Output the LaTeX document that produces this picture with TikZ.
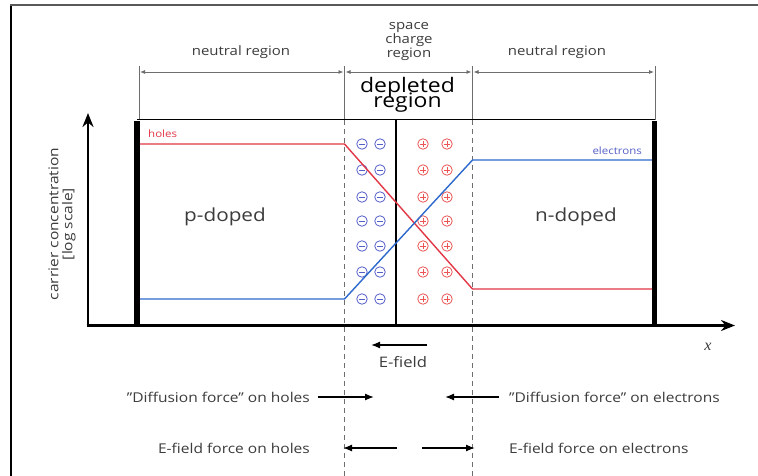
\documentclass[tikz,border=0pt]{standalone}
\usepackage{fontspec}
\setmainfont[FakeStretch=1.15]{Open Sans}
\newfontfamily\axisfont{Liberation Serif}
\usetikzlibrary{arrows.meta}
\definecolor{txt}{RGB}{60,60,60}
\definecolor{dimgray}{RGB}{110,110,110}
\definecolor{holered}{RGB}{225,55,70}
\definecolor{elecblue}{RGB}{45,105,205}
\definecolor{negblue}{RGB}{85,95,200}
\definecolor{posred}{RGB}{235,85,85}
\tikzset{
  lbl/.style={text=txt, inner sep=0pt, font=\fontsize{13}{15}\selectfont},
  bigl/.style={text=txt, inner sep=0pt, font=\fontsize{18}{20}\selectfont},
  depl/.style={text=black, inner sep=0pt, anchor=base, font=\fontsize{20}{20}\selectfont},
  forcel/.style={text=txt, inner sep=0pt, font=\fontsize{13.5}{16}\selectfont},
  dimline/.style={dimgray, line width=0.8pt, {Latex[length=5pt,width=4pt]}-{Latex[length=5pt,width=4pt]}},
  tickline/.style={dimgray, line width=0.6pt},
  sepline/.style={dimgray, line width=0.7pt, dash pattern=on 5pt off 4pt},
  wall/.style={line width=5.5pt},
  axis/.style={line width=2.6pt, -{Stealth[length=14pt,width=11pt]}},
  force/.style={line width=1.3pt, -{Latex[length=9pt,width=7pt]}},
  conc/.style={line width=1.4pt},
  chargeneg/.style={circle, draw=negblue, line width=0.8pt, minimum size=10.5pt, inner sep=0pt,
    path picture={\draw[negblue, line width=0.9pt]
      ([xshift=2.2pt]path picture bounding box.west) -- ([xshift=-2.2pt]path picture bounding box.east);}},
  chargepos/.style={circle, draw=posred, line width=0.8pt, minimum size=10.5pt, inner sep=0pt,
    path picture={\draw[posred, line width=0.9pt]
      ([xshift=2.2pt]path picture bounding box.west) -- ([xshift=-2.2pt]path picture bounding box.east)
      ([yshift=-2.2pt]path picture bounding box.north) -- ([yshift=2.2pt]path picture bounding box.south);}},
}
\begin{document}
\begin{tikzpicture}[x=1pt, y=-1pt]
\useasboundingbox (0,0) rectangle (758,476);
\fill[white] (0,0) rectangle (758,476);

% outer frame
\draw[black, line width=2pt] (10.5,476) -- (10.5,5.5);
\draw[black!65, line width=2pt] (10,5.5) -- (758,5.5);

% region headings
\node[lbl] (neutL) at (241,52) {neutral region};
\node[lbl, align=center, font=\fontsize{13}{14}\selectfont] (scr) at (409,42) {space\\charge\\region};
\node[lbl] (neutR) at (557,52) {neutral region};

% dimension ticks and arrows
\coordinate (t1a) at (139,66); \coordinate (t1b) at (139,120);
\coordinate (t2a) at (344.5,66); \coordinate (t2b) at (344.5,120);
\coordinate (t3a) at (472.5,66); \coordinate (t3b) at (472.5,120);
\coordinate (t4a) at (655,66); \coordinate (t4b) at (655,120);
\draw[tickline] (t1a) -- (t1b);
\draw[tickline] (t2a) -- (t2b);
\draw[tickline] (t3a) -- (t3b);
\draw[tickline] (t4a) -- (t4b);
\coordinate (d1) at (139,72); \coordinate (d2) at (344.5,72);
\coordinate (d3) at (472.5,72); \coordinate (d4) at (655,72);
\draw[dimline] ([xshift=1pt]d1) -- ([xshift=-1pt]d2);
\draw[dimline] ([xshift=1pt]d2) -- ([xshift=-1pt]d3);
\draw[dimline] ([xshift=1pt]d3) -- ([xshift=-1pt]d4);

% two stacked lines set tightly
\node[depl, text depth=0pt] (depl1) at (407.5,93) {depleted};
\node[depl, text height=10.5pt] (depl2) at (407.5,108) {region};

% junction edges, dashed below the heading
\coordinate (sl1) at (344.5,120); \coordinate (sl2) at (344.5,476);
\coordinate (sr1) at (472.5,120); \coordinate (sr2) at (472.5,476);
\draw[sepline] (sl1) -- (sl2);
\draw[sepline] (sr1) -- (sr2);

% sample outline
\coordinate (tl) at (137,119.5); \coordinate (tr) at (654.5,119.5);
\coordinate (bl) at (137,325.5); \coordinate (br) at (654.5,325.5);
\draw[line width=1.6pt] (tl) -- (tr);
\draw[wall] (bl) -- ([yshift=-2pt]tl);
\draw[wall] (br) -- ([yshift=-2pt]tr);
\coordinate (mt) at (396,119.5); \coordinate (mb) at (396,325.5);
\draw[line width=1.3pt] (mt) -- (mb);

% axes
\coordinate (org) at (88,325.5);
\coordinate (ytop) at (88,113);
\coordinate (xend) at (735,325.5);
\draw[axis] (org) -- (ytop);
\draw[axis] ([xshift=-1.3pt]org) -- (xend);
\node[inner sep=0pt, text=txt, font=\axisfont\itshape\fontsize{16}{17}\selectfont] (xl) at (708,347) {x};
\node[lbl, rotate=90, align=center, font=\fontsize{13.5}{14}\selectfont] (yl) at (62,224) {carrier concentration\\{[log scale]}};

% fixed ionised dopants
\foreach \r/\y in {1/144,2/170,3/197,4/221,5/246,6/272,7/299} {
  \node[chargeneg] (neg\r a) at (362,\y) {};
  \node[chargeneg] (neg\r b) at (380,\y) {};
  \node[chargepos] (pos\r a) at (423,\y) {};
  \node[chargepos] (pos\r b) at (447,\y) {};
}

% carrier concentrations
\coordinate (h1) at (140,144); \coordinate (h2) at (344.5,144);
\coordinate (h3) at (472.5,289); \coordinate (h4) at (652,289);
\draw[conc, holered] (h1) -- (h2) -- (h3) -- (h4);
\coordinate (e1) at (140,299); \coordinate (e2) at (344.5,299);
\coordinate (e3) at (472.5,160); \coordinate (e4) at (652,160);
\draw[conc, elecblue] (e1) -- (e2) -- (e3) -- (e4);
\node[inner sep=0pt, text=holered, font=\fontsize{10}{11}\selectfont, anchor=west] (hl) at (148,134) {holes};
\node[inner sep=0pt, text=negblue, font=\fontsize{10}{11}\selectfont, anchor=east] (el) at (642,151) {electrons};

\node[bigl] (pd) at (225,217) {p-doped};
\node[bigl] (nd) at (576,217) {n-doped};

% field and forces
\coordinate (ef1) at (427,345); \coordinate (ef2) at (371,345);
\draw[force] (ef1) -- (ef2);
\node[forcel, font=\fontsize{14.5}{16}\selectfont] (efl) at (403,362) {E-field};

\node[forcel, anchor=east] (dh) at (310,397) {"Diffusion force" on holes};
\coordinate (dh1) at (318,397); \coordinate (dh2) at (374,397);
\draw[force] (dh1) -- (dh2);
\node[forcel, anchor=west] (de) at (509,397) {"Diffusion force" on electrons};
\coordinate (de1) at (499,397); \coordinate (de2) at (445,397);
\draw[force] (de1) -- (de2);

\node[forcel, anchor=east] (fh) at (310,448) {E-field force on holes};
\coordinate (fh1) at (397,448); \coordinate (fh2) at (343,448);
\draw[force] (fh1) -- (fh2);
\node[forcel, anchor=west] (fe) at (509,448) {E-field force on electrons};
\coordinate (fe1) at (422,448); \coordinate (fe2) at (475,448);
\draw[force] (fe1) -- (fe2);
\end{tikzpicture}
\end{document}
